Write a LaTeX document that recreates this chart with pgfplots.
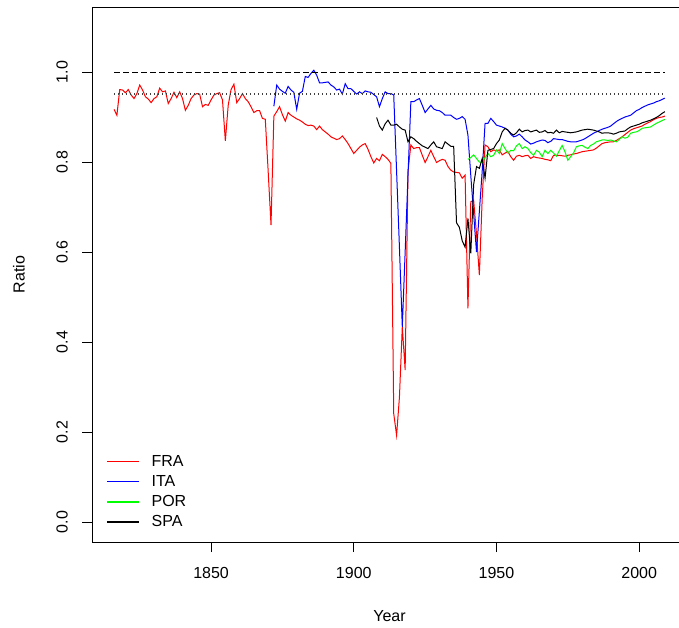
\documentclass[border=0pt]{standalone}
\usepackage{fontspec}
\setmainfont{Liberation Sans}
\usepackage{pgfplots}
\usepackage{pgfplotstable}
\pgfplotsset{compat=1.18}

\pgfplotstableread{
year ratio
1816 0.917
1817 0.904
1818 0.961
1819 0.960
1820 0.954
1821 0.961
1822 0.949
1823 0.941
1824 0.952
1825 0.971
1826 0.960
1827 0.945
1828 0.940
1829 0.932
1830 0.941
1831 0.945
1832 0.964
1833 0.956
1834 0.958
1835 0.930
1836 0.941
1837 0.955
1838 0.943
1839 0.956
1840 0.941
1841 0.915
1842 0.926
1843 0.941
1844 0.949
1845 0.952
1846 0.951
1847 0.923
1848 0.928
1849 0.926
1850 0.938
1851 0.949
1852 0.952
1853 0.954
1854 0.938
1855 0.847
1856 0.926
1857 0.961
1858 0.973
1859 0.932
1860 0.941
1861 0.952
1862 0.941
1863 0.934
1864 0.923
1865 0.910
1866 0.914
1867 0.914
1868 0.897
1869 0.895
1870 0.780
1871 0.660
1872 0.902
1873 0.912
1874 0.923
1875 0.905
1876 0.891
1877 0.910
1878 0.904
1879 0.900
1880 0.896
1881 0.893
1882 0.889
1883 0.884
1884 0.881
1885 0.882
1886 0.880
1887 0.872
1888 0.880
1889 0.872
1890 0.867
1891 0.862
1892 0.856
1893 0.853
1894 0.850
1895 0.852
1896 0.858
1897 0.850
1898 0.841
1899 0.830
1900 0.819
1901 0.826
1902 0.833
1903 0.838
1904 0.841
1905 0.828
1906 0.812
1907 0.798
1908 0.808
1909 0.803
1910 0.817
1911 0.812
1912 0.806
1913 0.797
1914 0.241
1915 0.193
1916 0.278
1917 0.434
1918 0.338
1919 0.780
1920 0.838
1921 0.830
1922 0.832
1923 0.832
1924 0.815
1925 0.799
1926 0.812
1927 0.826
1928 0.812
1929 0.799
1930 0.803
1931 0.806
1932 0.804
1933 0.790
1934 0.782
1935 0.778
1936 0.777
1937 0.776
1938 0.764
1939 0.771
1940 0.475
1941 0.712
1942 0.715
1943 0.640
1944 0.549
1945 0.720
1946 0.838
1947 0.834
1948 0.823
1949 0.827
1950 0.825
1951 0.827
1952 0.816
1953 0.820
1954 0.823
1955 0.812
1956 0.804
1957 0.813
1958 0.815
1959 0.812
1960 0.814
1961 0.815
1962 0.808
1963 0.812
1964 0.810
1965 0.809
1966 0.808
1967 0.806
1968 0.805
1969 0.803
1970 0.815
1971 0.815
1972 0.815
1973 0.814
1974 0.813
1975 0.815
1976 0.816
1977 0.818
1978 0.819
1979 0.821
1980 0.823
1981 0.824
1982 0.825
1983 0.826
1984 0.827
1985 0.831
1986 0.836
1987 0.841
1988 0.843
1989 0.844
1990 0.845
1991 0.845
1992 0.848
1993 0.852
1994 0.856
1995 0.861
1996 0.866
1997 0.871
1998 0.874
1999 0.876
2000 0.878
2001 0.880
2002 0.884
2003 0.887
2004 0.890
2005 0.894
2006 0.897
2007 0.899
2008 0.900
2009 0.902
}\fra

\pgfplotstableread{
year ratio
1872 0.924
1873 0.971
1874 0.962
1875 0.957
1876 0.953
1877 0.968
1878 0.960
1879 0.955
1880 0.917
1881 0.953
1882 0.957
1883 0.990
1884 0.988
1885 0.997
1886 1.004
1887 0.993
1888 0.976
1889 0.976
1890 0.977
1891 0.978
1892 0.971
1893 0.967
1894 0.960
1895 0.962
1896 0.951
1897 0.974
1898 0.963
1899 0.963
1900 0.957
1901 0.951
1902 0.956
1903 0.952
1904 0.958
1905 0.956
1906 0.955
1907 0.950
1908 0.945
1909 0.923
1910 0.941
1911 0.956
1912 0.952
1913 0.952
1914 0.949
1915 0.780
1916 0.610
1917 0.434
1918 0.600
1919 0.770
1920 0.934
1921 0.934
1922 0.938
1923 0.941
1924 0.926
1925 0.910
1926 0.918
1927 0.926
1928 0.918
1929 0.915
1930 0.914
1931 0.910
1932 0.904
1933 0.904
1934 0.904
1935 0.899
1936 0.895
1937 0.897
1938 0.901
1939 0.895
1940 0.860
1941 0.770
1942 0.685
1943 0.600
1944 0.690
1945 0.780
1946 0.886
1947 0.886
1948 0.897
1949 0.890
1950 0.882
1951 0.880
1952 0.878
1953 0.875
1954 0.871
1955 0.862
1956 0.856
1957 0.858
1958 0.862
1959 0.856
1960 0.849
1961 0.845
1962 0.840
1963 0.842
1964 0.845
1965 0.847
1966 0.849
1967 0.848
1968 0.843
1969 0.846
1970 0.852
1971 0.851
1972 0.850
1973 0.850
1974 0.848
1975 0.846
1976 0.845
1977 0.845
1978 0.845
1979 0.847
1980 0.849
1981 0.852
1982 0.856
1983 0.860
1984 0.864
1985 0.867
1986 0.870
1987 0.873
1988 0.875
1989 0.877
1990 0.880
1991 0.885
1992 0.890
1993 0.894
1994 0.897
1995 0.900
1996 0.902
1997 0.904
1998 0.909
1999 0.914
2000 0.917
2001 0.921
2002 0.924
2003 0.927
2004 0.929
2005 0.931
2006 0.934
2007 0.936
2008 0.939
2009 0.942
}\ita

\pgfplotstableread{
year ratio
1940 0.806
1941 0.810
1942 0.816
1943 0.808
1944 0.800
1945 0.799
1946 0.810
1947 0.819
1948 0.812
1949 0.815
1950 0.827
1951 0.819
1952 0.841
1953 0.830
1954 0.820
1955 0.826
1956 0.825
1957 0.836
1958 0.841
1959 0.830
1960 0.834
1961 0.830
1962 0.821
1963 0.815
1964 0.826
1965 0.822
1966 0.812
1967 0.826
1968 0.819
1969 0.826
1970 0.820
1971 0.813
1972 0.825
1973 0.837
1974 0.823
1975 0.804
1976 0.812
1977 0.820
1978 0.834
1979 0.836
1980 0.837
1981 0.833
1982 0.830
1983 0.837
1984 0.840
1985 0.845
1986 0.847
1987 0.849
1988 0.849
1989 0.848
1990 0.849
1991 0.847
1992 0.845
1993 0.850
1994 0.856
1995 0.853
1996 0.855
1997 0.864
1998 0.866
1999 0.867
2000 0.870
2001 0.875
2002 0.876
2003 0.877
2004 0.878
2005 0.882
2006 0.886
2007 0.889
2008 0.892
2009 0.895
}\por

\pgfplotstableread{
year ratio
1908 0.899
1909 0.880
1910 0.871
1911 0.885
1912 0.893
1913 0.882
1914 0.882
1915 0.884
1916 0.878
1917 0.873
1918 0.871
1919 0.845
1920 0.856
1921 0.852
1922 0.846
1923 0.841
1924 0.836
1925 0.833
1926 0.830
1927 0.838
1928 0.845
1929 0.834
1930 0.832
1931 0.830
1932 0.845
1933 0.840
1934 0.835
1935 0.835
1936 0.665
1937 0.655
1938 0.625
1939 0.611
1940 0.675
1941 0.597
1942 0.750
1943 0.790
1944 0.786
1945 0.808
1946 0.764
1947 0.826
1948 0.828
1949 0.830
1950 0.841
1951 0.849
1952 0.867
1953 0.875
1954 0.871
1955 0.864
1956 0.860
1957 0.865
1958 0.873
1959 0.867
1960 0.870
1961 0.871
1962 0.867
1963 0.869
1964 0.871
1965 0.866
1966 0.867
1967 0.870
1968 0.865
1969 0.866
1970 0.864
1971 0.871
1972 0.865
1973 0.868
1974 0.867
1975 0.866
1976 0.865
1977 0.866
1978 0.867
1979 0.869
1980 0.871
1981 0.872
1982 0.873
1983 0.872
1984 0.871
1985 0.869
1986 0.867
1987 0.864
1988 0.865
1989 0.865
1990 0.864
1991 0.862
1992 0.864
1993 0.867
1994 0.868
1995 0.869
1996 0.874
1997 0.878
1998 0.880
1999 0.882
2000 0.884
2001 0.887
2002 0.889
2003 0.891
2004 0.893
2005 0.896
2006 0.899
2007 0.903
2008 0.908
2009 0.912
}\spa

\pgfplotstableread{
year ratio
1816 1.0
2009 1.0
}\onetab

\pgfplotstableread{
year ratio
1816 0.951
2009 0.951
}\reftab

\begin{document}
\begin{tikzpicture}
\begin{axis}[
  at={(92bp,86bp)}, anchor=south west,
  scale only axis, width=594.9bp, height=534.8bp,
  xmin=1808.28, xmax=2016.72, ymin=-0.044, ymax=1.144,
  axis line style={black, line width=1bp},
  xtick={1850,1900,1950,2000}, xticklabels={1850,1900,1950,2000},
  ytick={0,0.2,0.4,0.6,0.8,1.0}, yticklabels={0.0,0.2,0.4,0.6,0.8,1.0},
  xtick pos=lower, ytick pos=left,
  tick align=outside, major tick length=10bp,
  tick style={black, line width=1bp},
  tick label style={font=\fontsize{16bp}{19bp}\selectfont},
  xticklabel style={anchor=center, yshift=-21bp},
  yticklabel style={rotate=90, anchor=center, yshift=20bp},
  label style={font=\fontsize{16bp}{19bp}\selectfont},
  xlabel={Year}, ylabel={Ratio},
  xlabel style={at={(axis description cs:0.5,0)}, anchor=center, yshift=-74bp},
  ylabel style={at={(axis description cs:0,0.5)}, anchor=center, yshift=73bp},
  legend cell align=left,
  legend style={at={(axis cs:1812.2,0.158)}, anchor=north west, draw=none, fill=none,
    font=\fontsize{16bp}{19bp}\selectfont, row sep=3.6bp},
  legend image code/.code={\draw[#1, line width=1.5bp] (0bp,0bp) -- (32bp,0bp); \path (42bp,0bp);},
]
\addplot[red, line width=1bp] table[x=year,y=ratio]{\fra};
\addlegendentry{FRA}
\addplot[blue, line width=1bp] table[x=year,y=ratio]{\ita};
\addlegendentry{ITA}
\addplot[green, line width=1bp] table[x=year,y=ratio]{\por};
\addlegendentry{POR}
\addplot[black, line width=1bp] table[x=year,y=ratio]{\spa};
\addlegendentry{SPA}
\addplot[black, line width=1bp, dash pattern=on 6bp off 3bp, forget plot] table[x=year,y=ratio]{\onetab};
\addplot[black!75, line width=1.2bp, dash pattern=on 1.2bp off 2.8bp, forget plot] table[x=year,y=ratio]{\reftab};
\end{axis}
\pgfresetboundingbox
\path[use as bounding box] (0,0) rectangle (679bp,628bp);
\end{tikzpicture}
\end{document}
